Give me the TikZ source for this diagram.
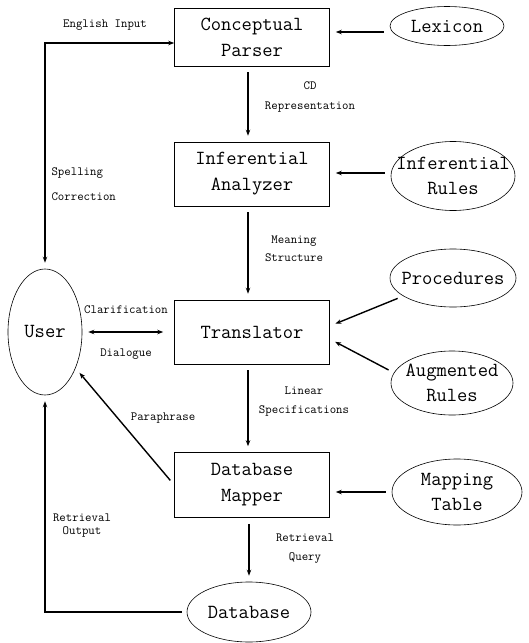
\documentclass[tikz,border=0pt]{standalone}
\usetikzlibrary{shapes.geometric, arrows.meta}
\begin{document}
\begin{tikzpicture}[x=1pt, y=-1pt, >={Stealth[length=6pt, width=4.5pt]},
        box/.style={draw, line width=0.6pt, minimum width=155pt, minimum height=60pt, align=center, font=\ttfamily\fontsize{20}{26}\selectfont},
        oval/.style={draw, ellipse, line width=0.6pt, inner sep=0pt},
        ovaltext/.style={align=center, font=\ttfamily\fontsize{20}{25}\selectfont},
        lbl/.style={align=center, font=\ttfamily\fontsize{12.5}{19}\selectfont},
        arr/.style={line width=1.4pt, ->, shorten <=6pt, shorten >=6pt}]
    \useasboundingbox (0,0) rectangle (528,643);

    % processing chain
    \node[box, minimum height=58pt] (parser) at (252,37) {Conceptual\\Parser};
    \node[box, minimum height=64pt] (infer) at (252,174) {Inferential\\Analyzer};
    \node[box, minimum height=64pt] (trans) at (252,332) {Translator};
    \node[box, minimum height=65pt] (mapper) at (252,485) {Database\\Mapper};

    % knowledge sources
    \node[oval, minimum width=114pt, minimum height=39pt, label={[ovaltext]center:Lexicon}] (lexicon) at (447,26) {};
    \node[oval, minimum width=124pt, minimum height=69pt, label={[ovaltext]center:Inferential\\Rules}] (irules) at (453,176) {};
    \node[oval, minimum width=126pt, minimum height=58pt, label={[ovaltext]center:Procedures}] (proc) at (453,278) {};
    \node[oval, minimum width=122pt, minimum height=64pt, label={[ovaltext]center:Augmented\\Rules}] (aug) at (452,383) {};
    \node[oval, minimum width=130pt, minimum height=66pt, label={[ovaltext]center:Mapping\\Table}] (maptab) at (457,492) {};
    \node[oval, minimum width=124pt, minimum height=60pt, label={[ovaltext]center:Database}] (db) at (249,612) {};
    \node[oval, minimum width=74pt, minimum height=126pt, label={[ovaltext]center:User}] (user) at (45,332) {};

    % main flow
    \draw[arr] ([xshift=-4pt]parser.south) -- ([xshift=-4pt]infer.north);
    \draw[arr] ([xshift=-4pt]infer.south) -- ([xshift=-4pt]trans.north);
    \draw[arr] ([xshift=-4pt]trans.south) -- ([xshift=-4pt]mapper.north);
    \draw[arr] (mapper.south -| db.north) -- (db.north);

    \draw[arr] ([yshift=-6pt]lexicon.west) -- ([yshift=-6pt]lexicon.west -| parser.east);
    \draw[arr] ([yshift=3pt]irules.west) -- ([yshift=3pt]irules.west -| infer.east);
    \draw[arr] (proc.200) -- ([yshift=6pt]trans.east);
    \draw[arr] (aug.170) -- ([yshift=-7pt]trans.east);
    \draw[arr] (maptab.west) -- (maptab.west -| mapper.east);

    % user side
    \draw[line width=1.4pt, <->, shorten <=6pt] (user.north) |- ([yshift=-6pt]parser.west);
    \draw[arr, <->, shorten >=11pt] (user) -- (trans);
    \draw[arr] (mapper.west) -- (user);
    \draw[line width=1.4pt, ->, shorten <=5pt, shorten >=6pt] (db.west) -| (user.south);

    % labels
    \node[lbl] (inputlbl) at (105,25) {English Input};
    \node[lbl] (cdlbl) at (310,97) {CD\\[1pt]Representation};
    \node[lbl, anchor=west, align=left] (spelllbl) at (48,184) {Spelling\\[6pt]Correction};
    \node[lbl] (meanlbl) at (294,249) {Meaning\\[-1pt]Structure};
    \node[lbl] (clarlbl) at (126,310) {Clarification};
    \node[lbl] (diallbl) at (126,354) {Dialogue};
    \node[lbl] (linlbl) at (304,402) {Linear\\Specifications};
    \node[lbl] (paralbl) at (163,418) {Paraphrase};
    \node[lbl] (outlbl) at (82,526) {Retrieval\\[-6pt]Output};
    \node[lbl] (querylbl) at (305,549) {Retrieval\\Query};
\end{tikzpicture}
\end{document}
